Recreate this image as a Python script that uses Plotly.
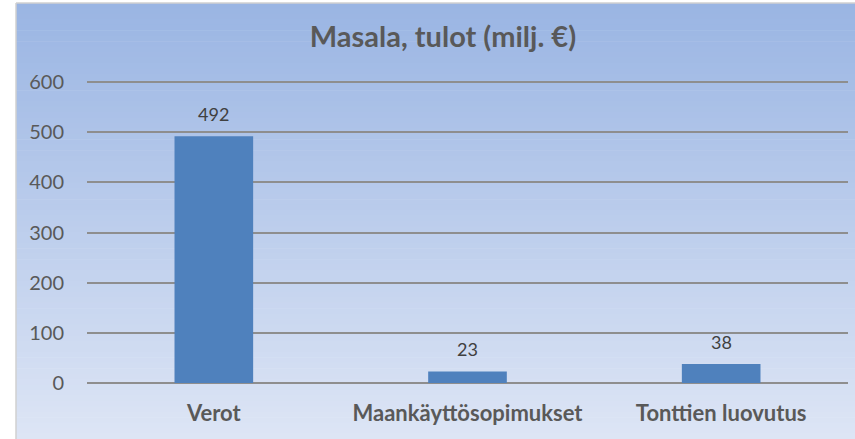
import plotly.graph_objects as go

categories = ["Verot", "Maankäyttösopimukset", "Tonttien luovutus"]
values = [492, 23, 38]
y_ticks = [0, 100, 200, 300, 400, 500, 600]
title_text = "Masala, tulot (milj. €)"

W, H = 855, 439
L, R, T, B = 87, 7, 79, 56
pw = W - L - R
ph = H - T - B

def px_x(p):
    return (p - L) / pw

def px_y(p):
    return (H - B - p) / ph

fig = go.Figure()
fig.add_trace(go.Bar(
    x=categories, y=values,
    marker=dict(color="#4F81BD", line=dict(width=0)),
    width=0.31,
    hoverinfo="skip",
))

shapes = []
top_c = (154, 181, 227)
bot_c = (221, 229, 245)
x_left, y_top, y_bot = 16, 3, 439
n = 80
for i in range(n):
    f = i / (n - 1)
    c = tuple(int(round(top_c[k] + (bot_c[k] - top_c[k]) * f)) for k in range(3))
    y0p = y_top + (y_bot - y_top) * i / n
    y1p = y_top + (y_bot - y_top) * (i + 1) / n + 0.6
    shapes.append(dict(type="rect", xref="paper", yref="paper",
                       x0=px_x(x_left), x1=px_x(W + 2), y0=px_y(y1p), y1=px_y(y0p),
                       fillcolor="rgb(%d,%d,%d)" % c, line=dict(width=0), layer="below"))
# border lines
shapes.append(dict(type="line", xref="paper", yref="paper",
                   x0=px_x(x_left), x1=px_x(x_left), y0=px_y(y_bot), y1=px_y(y_top),
                   line=dict(color="#D0D0D0", width=1.5), layer="below"))
shapes.append(dict(type="line", xref="paper", yref="paper",
                   x0=px_x(x_left), x1=px_x(W + 2), y0=px_y(y_top), y1=px_y(y_top),
                   line=dict(color="#D0D0D0", width=1.5), layer="below"))

annotations = []
for c, v in zip(categories, values):
    annotations.append(dict(x=c, y=v, xref="x", yref="y", text=str(v), showarrow=False,
                            yanchor="bottom", yshift=9,
                            font=dict(family="Lato", size=18, color="#404040")))

fig.update_layout(
    width=W, height=H,
    margin=dict(l=L, r=R, t=T, b=B),
    paper_bgcolor="white",
    plot_bgcolor="rgba(0,0,0,0)",
    shapes=shapes,
    annotations=annotations,
    showlegend=False,
    bargap=0.69,
    title=dict(text="<b>" + title_text + "</b>", x=443 / W, xref="container", xanchor="center",
               y=1 - 37 / H, yref="container", yanchor="middle",
               font=dict(family="Lato", size=29, color="#595959")),
    xaxis=dict(showgrid=False, showline=False, ticks="", zeroline=False,
               tickfont=dict(family="Lato", size=22, color="#595959"),
               ticklabelstandoff=15),
    yaxis=dict(range=[0, 606], tickvals=y_ticks, showgrid=True, gridcolor="#8E8E8E", gridwidth=1.8,
               zeroline=True, zerolinecolor="#8E8E8E", zerolinewidth=1.8,
               showline=False, ticks="",
               tickfont=dict(family="Lato", size=20, color="#595959"),
               ticklabelstandoff=22),
)
fig.update_xaxes(tickvals=categories, ticktext=["<b>" + c + "</b>" for c in categories])

fig.write_html("out.html", config={"displayModeBar": False},
               post_script="document.body.style.margin='0';document.body.style.overflow='hidden';")
